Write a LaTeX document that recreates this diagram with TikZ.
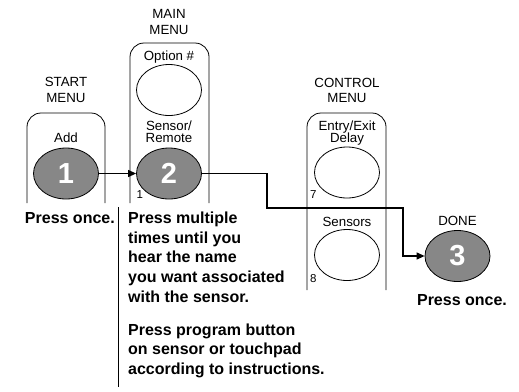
\documentclass[tikz,border=0pt]{standalone}
\usepackage{fontspec}
\setmainfont{Liberation Sans}
\usetikzlibrary{shapes.geometric,arrows.meta}
\definecolor{btngray}{RGB}{135,135,135}
\begin{document}
\begin{tikzpicture}[x=1pt,y=-1pt,
  panel/.style={draw,line width=0.8pt,rounded corners=14pt},
  btn/.style={ellipse,draw,line width=0.8pt,minimum width=65pt,minimum height=51pt,inner sep=0pt},
  filledbtn/.style={btn,fill=btngray,text=white,font=\fontsize{29}{29}\selectfont\bfseries},
  lbl/.style={font=\fontsize{13.3}{15}\selectfont,inner sep=0pt,anchor=base},
  num/.style={font=\fontsize{11.5}{11.5}\selectfont,inner sep=0pt,anchor=base west},
  big/.style={font=\fontsize{16}{19.7}\selectfont\bfseries,inner sep=0pt},
  conn/.style={line width=1.2pt,-{Triangle[length=8pt,width=7pt]}}
]
\useasboundingbox (0,0) rectangle (519,391);

% panels
\draw[panel] (27,203) -- (27,113) -- (105,113) -- (105,203);
\draw[panel] (130,203) -- (130,43) -- (209,43) -- (209,203);
\draw[panel] (307,290) -- (307,113) -- (386,113) -- (386,290);

% titles
\node[lbl] (st1) at (66,86) {START};
\node[lbl] (st2) at (66,102) {MENU};
\node[lbl] (mm1) at (169,18) {MAIN};
\node[lbl] (mm2) at (169,34) {MENU};
\node[lbl] (cm1) at (347,87) {CONTROL};
\node[lbl] (cm2) at (347,102) {MENU};
\node[lbl] (dn) at (457.5,225) {DONE};

% inner labels
\node[lbl] (add) at (66,142) {Add};
\node[lbl] (opt) at (169,60) {Option \#};
\node[lbl] (sr1) at (169,130) {Sensor/};
\node[lbl] (sr2) at (169,142.5) {Remote};
\node[lbl] (ee1) at (347,130) {Entry/Exit};
\node[lbl] (ee2) at (347,142) {Delay};
\node[lbl] (sns) at (347,226) {Sensors};

% buttons
\node[filledbtn] (b1) at (66,173.5) {1};
\node[btn] (bo) at (169,90) {};
\node[filledbtn] (b2) at (169,173.5) {2};
\node[btn] (b7) at (347,172.5) {};
\node[btn] (b8) at (347,255) {};
\node[filledbtn] (b3) at (457.5,256) {3};

\node[num] (n1) at (136.5,198) {1};
\node[num] (n7) at (310,198) {7};
\node[num] (n8) at (310,282) {8};

% connectors
\draw[conn] (b1.east) -- (b2.west);
\draw[conn] (b2.east) -- (267,173.5) |- (403,208) |- (b3.west);

% bottom texts
\node[big,anchor=base east] (po1) at (115,223.3) {Press once.};
\node[big,anchor=base] (po3) at (462,305) {Press once.};
\coordinate (vtop) at (118,207);
\coordinate (vbot) at (118,387);
\draw[line width=0.8pt] (vtop) -- (vbot);
\node[big,anchor=base west] (t1) at (128,223.3) {Press multiple};
\node[big,anchor=base west] (t2) at (128,243) {times until you};
\node[big,anchor=base west] (t3) at (128,262.7) {hear the name};
\node[big,anchor=base west] (t4) at (128,282.4) {you want associated};
\node[big,anchor=base west] (t5) at (128,302) {with the sensor.};
\node[big,anchor=base west] (t6) at (128,335) {Press program button};
\node[big,anchor=base west] (t7) at (128,354.7) {on sensor or touchpad};
\node[big,anchor=base west] (t8) at (128,374.4) {according to instructions.};
\end{tikzpicture}
\end{document}
